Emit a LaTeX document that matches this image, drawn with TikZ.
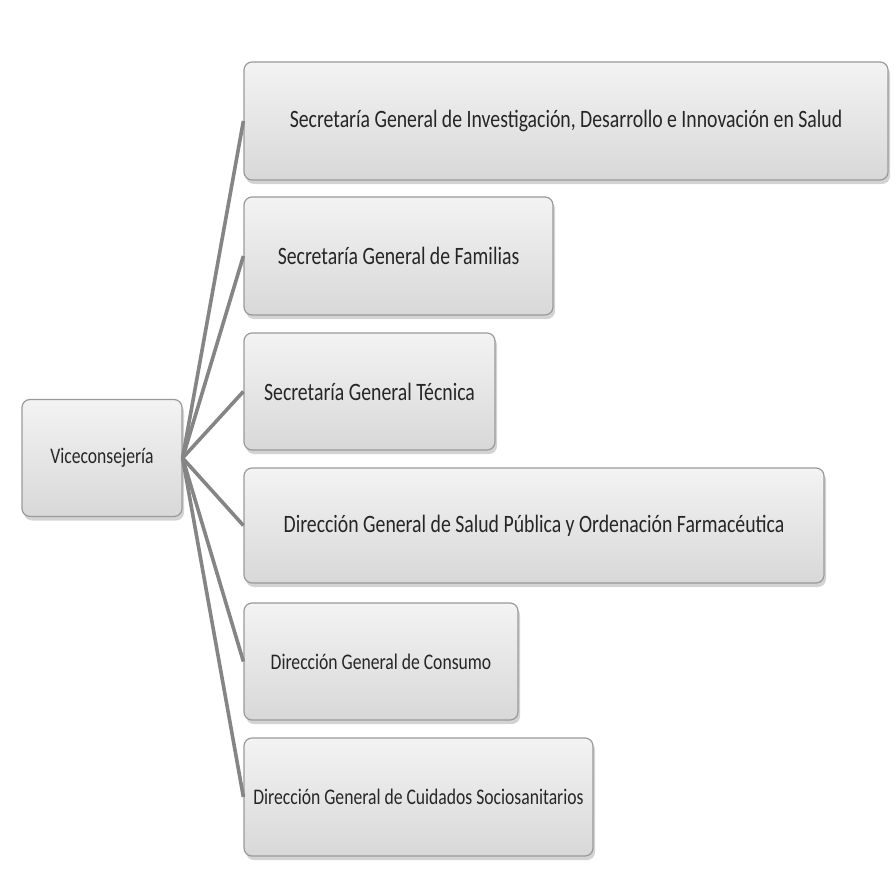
\documentclass[tikz,border=0pt]{standalone}
\usepackage{fontspec}
\setmainfont[FakeStretch=0.79]{Carlito}
\usetikzlibrary{shadows}

\definecolor{boxtop}{HTML}{F3F3F3}
\definecolor{boxbot}{HTML}{D8D8D8}
\definecolor{boxline}{HTML}{9A9A9A}
\definecolor{linkgray}{HTML}{858585}

\begin{document}
\begin{tikzpicture}[x=1pt,y=-1pt,
                unit node/.style={draw=boxline,line width=1.2pt,rounded corners=8pt,
                  top color=boxtop,bottom color=boxbot,
                  drop shadow={shadow xshift=2pt,shadow yshift=-4pt,opacity=0.35},
                  font=\fontsize{25}{30}\selectfont,text=black!85,inner sep=0pt},
                small unit/.style={unit node,font=\fontsize{22.3}{27}\selectfont},
                link/.style={draw=linkgray,line width=3.6pt}]

  \useasboundingbox (0,0) rectangle (896,880);

  \node[small unit,minimum width=160pt,minimum height=117pt] (V) at (102,458) {Viceconsejería};
  \node[unit node,minimum width=644pt,minimum height=118pt] (S1) at (566,121) {Secretaría General de Investigación, Desarrollo e Innovación en Salud};
  \node[unit node,minimum width=309pt,minimum height=118pt] (S2) at (398.5,256) {Secretaría General de Familias};
  \node[unit node,minimum width=251pt,minimum height=117pt] (S3) at (369.5,391.5) {Secretaría General Técnica};
  \node[unit node,minimum width=580pt,minimum height=115pt] (D1) at (534,525.5) {Dirección General de Salud Pública y Ordenación Farmacéutica};
  \node[small unit,minimum width=274pt,minimum height=117pt] (D2) at (381,661.5) {Dirección General de Consumo};
  \node[small unit,minimum width=349pt,minimum height=118pt] (D3) at (418.5,797) {Dirección General de Cuidados Sociosanitarios};

  \path[link]
    (V.east) edge (S1.west)
      edge (S2.west)
      edge (S3.west)
      edge (D1.west)
      edge (D2.west)
      edge (D3.west);
\end{tikzpicture}
\end{document}
